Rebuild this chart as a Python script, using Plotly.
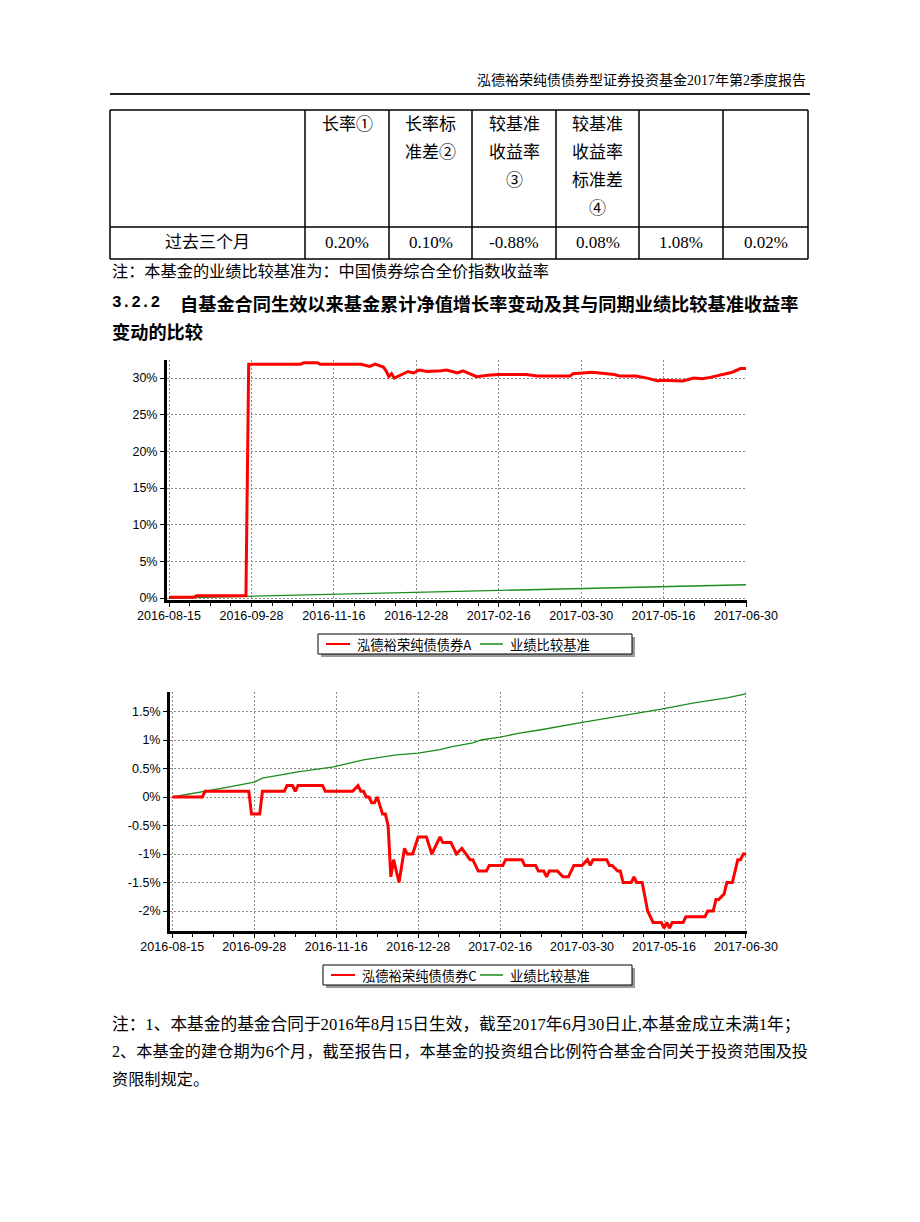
import plotly.graph_objects as go

W, H = 920, 1222

# ---------------- data ----------------
tick_idx = [0, 30, 60, 90, 120, 150, 180, 210]
tick_dates = ["2016-08-15", "2016-09-28", "2016-11-16", "2016-12-28",
              "2017-02-16", "2017-03-30", "2017-05-16", "2017-06-30"]

# benchmark (业绩比较基准), cumulative %, by trading-day index
bench_idx = [0, 11, 19, 30, 33, 46, 59, 70, 82, 90, 98, 102, 110, 113, 120,
             127, 135, 149, 159, 169, 179, 191, 203, 210]
bench_val = [0, 0.09, 0.16, 0.26, 0.33, 0.44, 0.53, 0.65, 0.74, 0.77, 0.83,
             0.88, 0.95, 1.0, 1.05, 1.12, 1.18, 1.30, 1.38, 1.46, 1.54, 1.65,
             1.74, 1.81]

# 泓德裕荣纯债债券A cumulative NAV growth %
a_idx = [0, 9, 10, 28, 29, 48, 49, 54, 55, 70, 73, 75, 78, 79, 80, 81, 82, 85,
         87, 89, 91, 94, 97, 99, 101, 105, 107, 109, 112, 116, 120, 130, 134,
         146, 147, 154, 162, 164, 170, 174, 178, 179, 187, 191, 194, 197, 202,
         205, 208, 210]
a_val = [0.1, 0.1, 0.3, 0.3, 31.9, 31.9, 32.1, 32.1, 31.9, 31.9, 31.6, 31.9,
         31.5, 31.0, 30.2, 30.6, 30.0, 30.6, 30.9, 30.7, 31.1, 30.9, 30.9, 31.0,
         31.1, 30.7, 31.0, 30.7, 30.2, 30.4, 30.5, 30.5, 30.3, 30.3, 30.6, 30.8,
         30.5, 30.3, 30.3, 30.0, 29.6, 29.7, 29.6, 30.0, 29.9, 30.1, 30.5, 30.8,
         31.3, 31.3]

# 泓德裕荣纯债债券C cumulative NAV growth %
c_idx = [0, 11, 12, 28, 29, 32, 33, 41, 42, 44, 45, 46, 55, 56, 66, 68, 69, 70,
         71, 72, 73, 74, 75, 77, 78, 79, 80, 81, 83, 85, 86, 88, 90, 93, 95, 98,
         99, 102, 104, 106, 109, 110, 112, 115, 116, 121, 122, 128, 129, 133,
         134, 136, 137, 138, 141, 143, 145, 146, 147, 150, 152, 153, 154, 159,
         160, 161, 163, 164, 165, 168, 169, 170, 172, 174, 175, 176, 179, 180,
         181, 182, 183, 187, 188, 195, 196, 198, 199, 200, 202, 203, 205, 206,
         207, 208, 209, 210]
c_val = [0, 0, 0.1, 0.1, -0.3, -0.3, 0.1, 0.1, 0.2, 0.2, 0.1, 0.2, 0.2, 0.1,
         0.1, 0.2, 0.1, 0.1, 0.0, 0.0, -0.1, -0.1, 0.0, -0.3, -0.3, -0.5, -1.4,
         -1.1, -1.5, -0.9, -1.0, -1.0, -0.7, -0.7, -1.0, -0.7, -0.8, -0.8, -1.0,
         -0.9, -1.1, -1.1, -1.3, -1.3, -1.2, -1.2, -1.1, -1.1, -1.2, -1.2, -1.3,
         -1.3, -1.4, -1.3, -1.3, -1.4, -1.4, -1.3, -1.2, -1.2, -1.1, -1.2, -1.1,
         -1.1, -1.2, -1.2, -1.3, -1.3, -1.5, -1.5, -1.4, -1.5, -1.5, -2.0, -2.1,
         -2.2, -2.2, -2.3, -2.2, -2.3, -2.2, -2.2, -2.1, -2.1, -2.0, -2.0, -1.8,
         -1.8, -1.7, -1.5, -1.5, -1.3, -1.1, -1.1, -1.0, -1.0]

y1_ticks = [0, 5, 10, 15, 20, 25, 30]
y1_text = ["0%", "5%", "10%", "15%", "20%", "25%", "30%"]
y2_ticks = [-2, -1.5, -1, -0.5, 0, 0.5, 1, 1.5]
y2_text = ["-2%", "-1.5%", "-1%", "-0.5%", "0%", "0.5%", "1%", "1.5%"]

name_a = "泓德裕荣纯债债券A"
name_c = "泓德裕荣纯债债券C"
name_b = "业绩比较基准"

header_title = "泓德裕荣纯债债券型证券投资基金2017年第2季度报告"
table_head = [["长率①"], ["长率标", "准差②"], ["较基准", "收益率", "③"],
              ["较基准", "收益率", "标准差", "④"], [], []]
row_label = "过去三个月"
row_values = ["0.20%", "0.10%", "-0.88%", "0.08%", "1.08%", "0.02%"]
note1 = "注：本基金的业绩比较基准为：中国债券综合全价指数收益率"
sec_num = "3.2.2"
sec_title1 = "自基金合同生效以来基金累计净值增长率变动及其与同期业绩比较基准收益率"
sec_title2 = "变动的比较"
foot_lines = ["注：1、本基金的基金合同于2016年8月15日生效，截至2017年6月30日止,本基金成立未满1年；",
              "2、本基金的建仓期为6个月，截至报告日，本基金的投资组合比例符合基金合同关于投资范围及投",
              "资限制规定。"]
foot_sizes = [16.7, 16.2, 16.2]

# ---------------- helpers ----------------
SERIF = "Liberation Serif, Noto Sans CJK SC, serif"
SANS_CJK = "Noto Sans CJK SC, sans-serif"
AX_FONT = "Liberation Sans, Arial, sans-serif"
RED = "#ff0000"
GREEN = "#1a8c1a"

def px(x):
    return x / W

def py(y):
    return 1 - y / H

annotations = []
shapes = []

def text(x, y, s, size, anchor="left", family=SERIF, color="black"):
    annotations.append(dict(x=px(x), y=py(y), xref="paper", yref="paper",
                            text=s, showarrow=False, xanchor=anchor,
                            yanchor="middle", font=dict(family=family, size=size,
                                                        color=color)))

def hline(x0, x1, y, w=1.5, color="black"):
    shapes.append(dict(type="line", xref="paper", yref="paper", x0=px(x0),
                       x1=px(x1), y0=py(y), y1=py(y),
                       line=dict(color=color, width=w)))

def vline(x, y0, y1, w=1.5, color="black"):
    shapes.append(dict(type="line", xref="paper", yref="paper", x0=px(x),
                       x1=px(x), y0=py(y0), y1=py(y1),
                       line=dict(color=color, width=w)))

def rect(x0, y0, x1, y1, fill, lc=None, lw=0):
    shapes.append(dict(type="rect", xref="paper", yref="paper", x0=px(x0),
                       x1=px(x1), y0=py(y1), y1=py(y0), fillcolor=fill,
                       line=dict(color=lc if lc else fill, width=lw)))

# ---------------- page header ----------------
text(808, 80, header_title, 14, anchor="right")
hline(110, 810, 94, w=2, color="#222222")

# ---------------- table ----------------
col_edges = [110, 305, 389, 472, 556, 639, 723, 808]
row_edges = [110, 227, 259]
for yv in row_edges:
    hline(col_edges[0], col_edges[-1], yv)
for xv in col_edges:
    vline(xv, row_edges[0], row_edges[-1])
for ci, lines in enumerate(table_head):
    cx = (col_edges[ci + 1] + col_edges[ci + 2]) / 2
    for li, s in enumerate(lines):
        text(cx, 124 + 28 * li, s, 17, anchor="center")
text((col_edges[0] + col_edges[1]) / 2, 243, row_label, 17, anchor="center")
for ci, s in enumerate(row_values):
    cx = (col_edges[ci + 1] + col_edges[ci + 2]) / 2
    text(cx, 243, s, 17, anchor="center")
text(110, 272, note1, 16.2)

# ---------------- section heading ----------------
text(110, 303, "<b>" + sec_num + "</b>", 16, family="Liberation Mono, monospace")
text(178, 303, "<b>" + sec_title1 + "</b>", 18.2, family=SANS_CJK)
text(110, 331, "<b>" + sec_title2 + "</b>", 18.2, family=SANS_CJK)

# ---------------- footnotes ----------------
for i, s in enumerate(foot_lines):
    text(110, 1024 + 28 * i, s, foot_sizes[i])

# ---------------- legends ----------------
def legend_box(x0, y0, x1, y1, red_name):
    rect(x0 + 3, y0 + 3, x1 + 3, y1 + 3, "#9a9a9a")
    rect(x0, y0, x1, y1, "white", lc="black", lw=1)
    yc = (y0 + y1) / 2
    shapes.append(dict(type="line", xref="paper", yref="paper", x0=px(x0 + 8),
                       x1=px(x0 + 32), y0=py(yc), y1=py(yc),
                       line=dict(color=RED, width=2)))
    text(x0 + 37, yc, red_name, 13.3, family=SANS_CJK)
    shapes.append(dict(type="line", xref="paper", yref="paper", x0=px(480),
                       x1=px(503), y0=py(yc), y1=py(yc),
                       line=dict(color=GREEN, width=1.5)))
    text(508, yc, name_b, 13.3, family=SANS_CJK)

legend_box(318, 634, 632, 654, name_a)
legend_box(323, 965, 632, 985, name_c)

# ---------------- charts ----------------
fig = go.Figure()
fig.add_trace(go.Scatter(x=bench_idx, y=bench_val, mode="lines", name=name_b,
                         line=dict(color=GREEN, width=1.3), xaxis="x", yaxis="y"))
fig.add_trace(go.Scatter(x=a_idx, y=a_val, mode="lines", name=name_a,
                         line=dict(color=RED, width=3), xaxis="x", yaxis="y"))
fig.add_trace(go.Scatter(x=bench_idx, y=bench_val, mode="lines", name=name_b,
                         line=dict(color=GREEN, width=1.3), xaxis="x2", yaxis="y2"))
fig.add_trace(go.Scatter(x=c_idx, y=c_val, mode="lines", name=name_c,
                         line=dict(color=RED, width=3), xaxis="x2", yaxis="y2"))

minor_vals = [v for v in [i * 7.5 for i in range(29)] if v % 30 != 0]
GRID = dict(showgrid=True, gridcolor="#8c8c8c", gridwidth=1, griddash="2px,2px")

def xaxis_cfg(domain, rng, anchor):
    return dict(domain=domain, range=rng, tickmode="array", tickvals=tick_idx,
                ticktext=tick_dates, ticks="outside", ticklen=4, tickwidth=1,
                tickcolor="black", showline=True, linecolor="black", linewidth=3,
                zeroline=False, automargin=False, anchor=anchor,
                ticklabelstandoff=-2,
                tickfont=dict(family=AX_FONT, size=12.5, color="black"),
                minor=dict(tickmode="array", tickvals=minor_vals, ticks="outside",
                           ticklen=3, tickcolor="black", showgrid=False),
                fixedrange=True, **GRID)

def yaxis_cfg(domain, rng, tv, tt, anchor):
    return dict(domain=domain, range=rng, tickmode="array", tickvals=tv,
                ticktext=tt, ticks="outside", ticklen=4, tickwidth=1,
                tickcolor="black", showline=True, linecolor="black", linewidth=3,
                zeroline=False, anchor=anchor, automargin=False,
                tickfont=dict(family=AX_FONT, size=12.5, color="black"),
                fixedrange=True, **GRID)

fig.update_layout(
    width=W, height=H, margin=dict(l=0, r=0, t=0, b=0, pad=0, autoexpand=False),
    paper_bgcolor="white", plot_bgcolor="white", showlegend=False,
    xaxis=xaxis_cfg([px(167), px(747)], [-0.73, 210.36], "y"),
    yaxis=yaxis_cfg([py(599.5), py(360)], [-0.2, 32.47], y1_ticks, y1_text, "x"),
    xaxis2=xaxis_cfg([px(170), px(747)], [-0.84, 210.37], "y2"),
    yaxis2=yaxis_cfg([py(930.5), py(692)], [-2.342, 1.842], y2_ticks, y2_text, "x2"),
    annotations=annotations, shapes=shapes,
)

fig.write_html("out.html", config={"displayModeBar": False},
               post_script="document.body.style.margin='0px';document.body.style.overflow='hidden';")
